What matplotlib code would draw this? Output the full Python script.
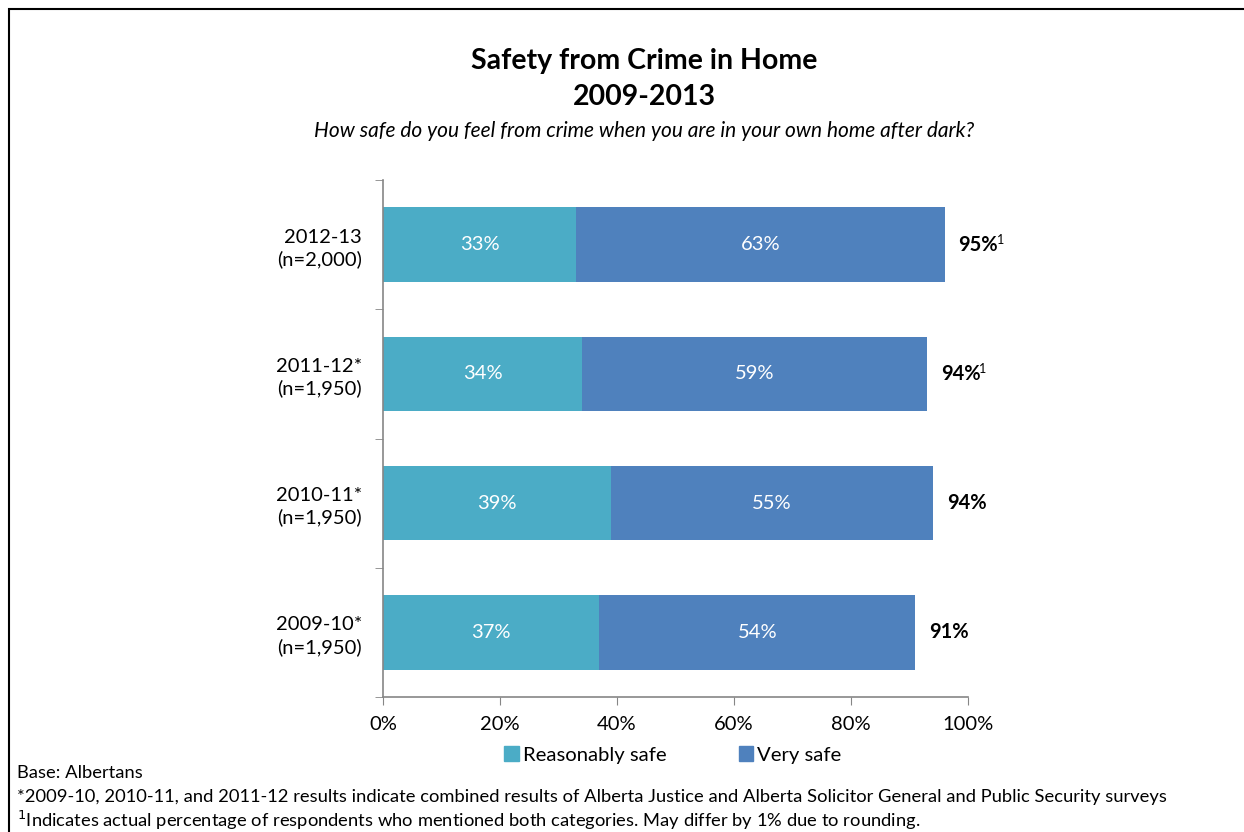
import numpy as np
import matplotlib.pyplot as plt
from matplotlib.patches import Rectangle, Patch

plt.rcParams['font.family'] = ['Lato', 'DejaVu Sans']

# survey years, bottom to top
years = ['2009-10*\n(n=1,950)', '2010-11*\n(n=1,950)', '2011-12*\n(n=1,950)', '2012-13\n(n=2,000)']
reasonably_safe = [37, 39, 34, 33]
very_safe = [54, 55, 59, 63]
combined = [91, 94, 94, 95]
combined_note = [False, False, True, True]

c_reason = '#4BACC6'
c_very = '#4F81BD'
grey = '#868686'

fig = plt.figure(figsize=(12.44, 8.32), dpi=100)
ax = fig.add_axes([383 / 1244, 1 - 697 / 832, 585 / 1244, 517 / 832])

y = np.arange(len(years))
h = 0.575
ax.barh(y, reasonably_safe, height=h, color=c_reason)
ax.barh(y, very_safe, left=reasonably_safe, height=h, color=c_very)

for i in range(len(years)):
    ax.text(reasonably_safe[i] / 2, y[i], f'{reasonably_safe[i]}%', color='white',
            ha='center', va='center', fontsize=14.5)
    ax.text(reasonably_safe[i] + very_safe[i] / 2, y[i], f'{very_safe[i]}%', color='white',
            ha='center', va='center', fontsize=14.5)
    end = reasonably_safe[i] + very_safe[i]
    t = ax.annotate(f'{combined[i]}%', xy=(end, y[i]), xytext=(10, 0), textcoords='offset points',
                    ha='left', va='center', fontsize=14.5, fontweight='bold')
    if combined_note[i]:
        ax.annotate('1', xy=(1, 1), xycoords=t, xytext=(-1, -8), textcoords='offset points',
                    ha='left', va='bottom', fontsize=9)

ax.set_xlim(0, 100)
ax.set_ylim(-0.5, 3.5)
ax.set_xticks(np.arange(0, 101, 20))
ax.set_xticklabels([f'{v}%' for v in range(0, 101, 20)], fontsize=14.5)
ax.set_yticks(y)
ax.set_yticklabels(years, fontsize=14.5, ha='right', linespacing=1.3)
ax.tick_params(axis='y', length=0, pad=15)
ax.set_yticks(np.arange(-0.5, 3.6, 1), minor=True)
ax.tick_params(axis='y', which='minor', length=6, color=grey)
ax.tick_params(axis='x', length=6, color=grey, pad=8)
for s in ['top', 'right']:
    ax.spines[s].set_visible(False)
for s in ['left', 'bottom']:
    ax.spines[s].set_color(grey)
    ax.spines[s].set_linewidth(1.2)

fig.text(0.5177, 1 - 61 / 832, 'Safety from Crime in Home', ha='center', va='center',
         fontsize=20.5, fontweight='bold')
fig.text(0.5177, 1 - 97 / 832, '2009-2013', ha='center', va='center',
         fontsize=20.5, fontweight='bold')
fig.text(0.5177, 1 - 131 / 832, 'How safe do you feel from crime when you are in your own home after dark?',
         ha='center', va='center', fontsize=15, style='italic')

handles = [Patch(color=c_reason, label='Reasonably safe'), Patch(color=c_very, label='Very safe')]
fig.legend(handles=handles, loc='center', bbox_to_anchor=(673 / 1244, 1 - 755 / 832), ncol=2,
           frameon=False, fontsize=14.6, handlelength=0.7, handleheight=0.7,
           handletextpad=0.2, columnspacing=3.6)

fig.text(17 / 1244, 1 - 773 / 832, 'Base: Albertans', ha='left', va='center', fontsize=13.2)
fig.text(17 / 1244, 1 - 797 / 832,
         '*2009-10, 2010-11, and 2011-12 results indicate combined results of Alberta Justice '
         'and Alberta Solicitor General and Public Security surveys',
         ha='left', va='center', fontsize=13.2)
fig.text(17 / 1244, 1 - 820 / 832,
         '$^{1}$Indicates actual percentage of respondents who mentioned both categories. '
         'May differ by 1% due to rounding.',
         ha='left', va='center', fontsize=13.2)

# outer frame
fig.patches.append(Rectangle((8.5 / 1244, -0.1), 1.2, 1 - 8.5 / 832 + 0.1, transform=fig.transFigure,
                             fill=False, edgecolor='black', linewidth=1.5))

fig.savefig('out.png', dpi=100)
